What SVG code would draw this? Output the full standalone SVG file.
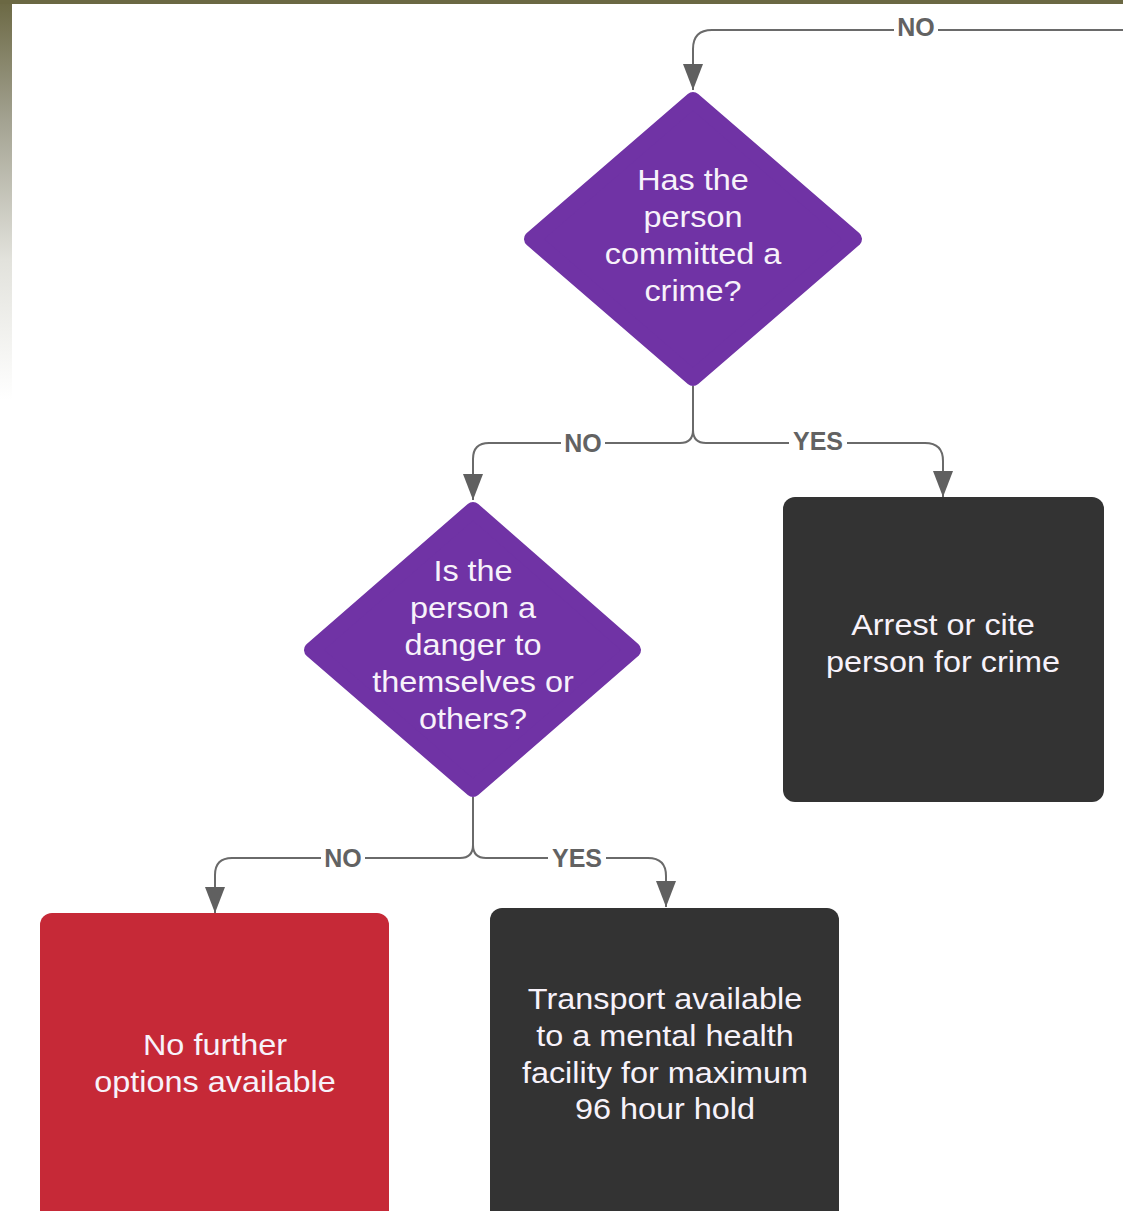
<svg xmlns="http://www.w3.org/2000/svg" width="1123" height="1211" viewBox="0 0 1123 1211">
<defs>
<linearGradient id="edge" x1="0" y1="0" x2="0" y2="400" gradientUnits="userSpaceOnUse">
<stop offset="0" stop-color="#6b6843"/>
<stop offset="0.3" stop-color="#a3a291"/>
<stop offset="0.65" stop-color="#e2e2dc"/>
<stop offset="1" stop-color="#ffffff"/>
</linearGradient>
<marker id="arr" viewBox="0 0 26 20" refX="26" refY="10" markerWidth="26" markerHeight="20" markerUnits="userSpaceOnUse" orient="auto">
<path d="M0,0 L26,10 L0,20 z" fill="#606060"/>
</marker>
<style>
.bg{fill:#ffffff}
.dia{fill:#7033a5;stroke:#7033a5;stroke-width:16;stroke-linejoin:round}
.dark{fill:#333333}
.red{fill:#c62937}
.t{font-family:"Liberation Sans",Arial,sans-serif;font-size:30px;fill:#f7f2fa;text-anchor:middle}
.c{fill:none;stroke:#6a6a6a;stroke-width:2}
.lab{font-family:"Liberation Sans",Arial,sans-serif;font-size:25px;font-weight:bold;fill:#626262;text-anchor:middle}
.lb{fill:#ffffff}
</style>
</defs>
<rect class="bg" x="0" y="0" width="1123" height="1211"/>
<rect x="0" y="0" width="12" height="1211" fill="url(#edge)"/>
<rect x="0" y="0" width="1123" height="4" fill="#6b6843"/>

<g id="connectors">
<path class="c" d="M1123,30 H712 Q693,30 693,49 V90" marker-end="url(#arr)"/>
<path class="c" d="M693,386 V430 Q693,443 680,443 H489 Q473,443 473,459 V500" marker-end="url(#arr)"/>
<path class="c" d="M693,430 Q693,443 706,443 H925 Q943,443 943,461 V497" marker-end="url(#arr)"/>
<path class="c" d="M473,797 V845 Q473,858 460,858 H232 Q215,858 215,875 V913" marker-end="url(#arr)"/>
<path class="c" d="M473,845 Q473,858 486,858 H648 Q666,858 666,876 V907" marker-end="url(#arr)"/>
<rect class="lb" x="894" y="18" width="44" height="24"/>
<text class="lab" x="916" y="36">NO</text>
<rect class="lb" x="561" y="431" width="44" height="24"/>
<text class="lab" x="583" y="452">NO</text>
<rect class="lb" x="789" y="430" width="58" height="24"/>
<text class="lab" x="818" y="450">YES</text>
<rect class="lb" x="321" y="846" width="44" height="24"/>
<text class="lab" x="343" y="867">NO</text>
<rect class="lb" x="548" y="846" width="58" height="24"/>
<text class="lab" x="577" y="867">YES</text>
</g>

<g id="q-crime">
<polygon class="dia" points="693,100 854,239 693,378 532,239"/>
<g transform="translate(693,0) scale(1.08,1)">
<text class="t" x="0" y="190">Has the</text>
<text class="t" x="0" y="227">person</text>
<text class="t" x="0" y="264">committed a</text>
<text class="t" x="0" y="301">crime?</text>
</g>
</g>

<g id="q-danger">
<polygon class="dia" points="473,510 633,650 473,789 312,650"/>
<g transform="translate(473,0) scale(1.08,1)">
<text class="t" x="0" y="581">Is the</text>
<text class="t" x="0" y="618">person a</text>
<text class="t" x="0" y="655">danger to</text>
<text class="t" x="0" y="692">themselves or</text>
<text class="t" x="0" y="729">others?</text>
</g>
</g>

<g id="arrest">
<rect class="dark" x="783" y="497" width="321" height="305" rx="12"/>
<g transform="translate(943,0) scale(1.08,1)">
<text class="t" x="0" y="635">Arrest or cite</text>
<text class="t" x="0" y="672">person for crime</text>
</g>
</g>

<g id="no-options">
<rect class="red" x="40" y="913" width="349" height="310" rx="12"/>
<g transform="translate(215,0) scale(1.08,1)">
<text class="t" x="0" y="1055">No further</text>
<text class="t" x="0" y="1092">options available</text>
</g>
</g>

<g id="transport">
<rect class="dark" x="490" y="908" width="349" height="315" rx="12"/>
<g transform="translate(665,0) scale(1.08,1)">
<text class="t" x="0" y="1009">Transport available</text>
<text class="t" x="0" y="1046">to a mental health</text>
<text class="t" x="0" y="1083">facility for maximum</text>
<text class="t" x="0" y="1119">96 hour hold</text>
</g>
</g>
</svg>
